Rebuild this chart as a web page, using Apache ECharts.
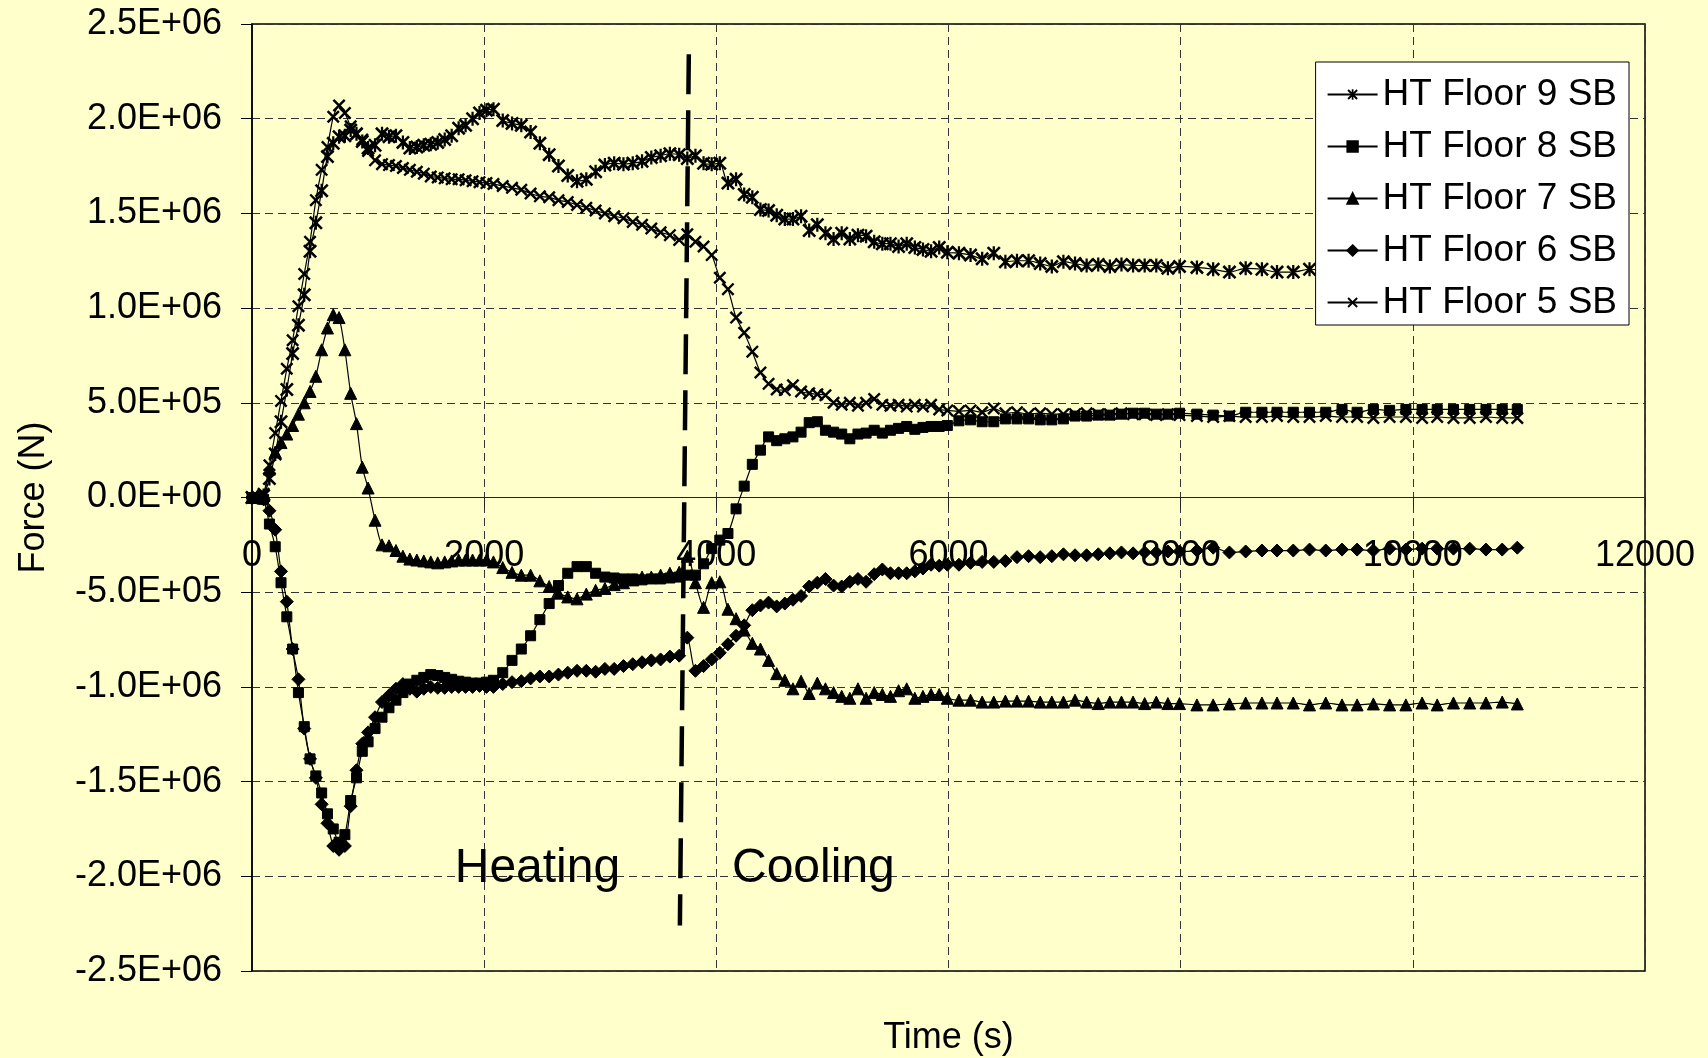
<!DOCTYPE html>
<html>
<head>
<meta charset="utf-8">
<title>HT Floor SB forces</title>
<script src="https://cdn.jsdelivr.net/npm/echarts@6/dist/echarts.min.js"></script>
<style>
html,body{margin:0;padding:0;background:#FFFFCC;}
#chart{width:1708px;height:1058px;}
</style>
</head>
<body>
<div id="chart"></div>
<script>
// Output times (s), shared by all five sub-beam records
const timeS = [0,50,100,150,200,250,300,350,400,450,500,550,600,650,700,750,800,850,900,950,1000,
  1060,1120,1180,1240,1300,1360,1420,1480,1540,1600,1660,1720,1780,1840,1900,1960,2020,2080,
  2160,2240,2320,2400,2480,2560,2640,2720,2800,2880,2960,3040,3120,3200,3280,3360,3440,3520,3600,3680,
  3750,3820,3890,3960,4030,4100,4170,4240,4310,4380,4450,4520,4590,4660,4730,4800,4870,4940,5010,5080,5150,5220,5290,5360,5430,5500,5570,5640,5710,5780,5850,5920,5990,
  6090,6190,6290,6390,6490,6590,6690,6790,6890,6990,7090,7190,7290,7390,7490,7590,7690,7790,7890,7990,
  8140,8280,8420,8560,8700,8830,8970,9110,9250,9390,9520,9660,9800,9940,10080,10210,10350,10490,10630,10770,10900];

// Axial force (N) per floor
const floor9 = [0,0,0.01e6,0.1e6,0.23e6,0.4e6,0.57e6,0.76e6,0.91e6,1.07e6,1.3e6,1.45e6,1.62e6,1.8e6,1.87e6,1.905e6,1.91e6,1.94e6,1.92e6,1.88e6,1.845e6,
  1.86e6,1.92e6,1.905e6,1.91e6,1.875e6,1.845e6,1.85e6,1.86e6,1.865e6,1.875e6,1.89e6,1.91e6,1.95e6,1.965e6,2.0e6,2.03e6,2.045e6,2.05e6,
  1.99e6,1.975e6,1.965e6,1.93e6,1.87e6,1.81e6,1.75e6,1.7e6,1.67e6,1.68e6,1.72e6,1.755e6,1.765e6,1.76e6,1.765e6,1.775e6,1.795e6,1.805e6,1.815e6,1.81e6,
  1.79e6,1.805e6,1.765e6,1.76e6,1.765e6,1.66e6,1.68e6,1.6e6,1.585e6,1.52e6,1.515e6,1.49e6,1.47e6,1.47e6,1.485e6,1.41e6,1.44e6,1.395e6,1.365e6,1.395e6,1.365e6,1.385e6,1.38e6,1.35e6,1.34e6,1.34e6,1.325e6,1.34e6,1.32e6,1.31e6,1.3e6,1.32e6,1.295e6,
  1.29e6,1.28e6,1.26e6,1.29e6,1.245e6,1.25e6,1.25e6,1.235e6,1.22e6,1.245e6,1.235e6,1.225e6,1.23e6,1.22e6,1.23e6,1.225e6,1.225e6,1.225e6,1.21e6,1.22e6,
  1.215e6,1.205e6,1.19e6,1.21e6,1.205e6,1.19e6,1.19e6,1.205e6,1.2e6,1.195e6,1.2e6,1.19e6,1.195e6,1.19e6,1.19e6,1.195e6,1.19e6,1.185e6,1.19e6,1.185e6,1.19e6];

const floor8 = [0,0,-0.01e6,-0.14e6,-0.26e6,-0.45e6,-0.63e6,-0.8e6,-1.03e6,-1.21e6,-1.38e6,-1.47e6,-1.56e6,-1.67e6,-1.75e6,-1.82e6,-1.78e6,-1.6e6,-1.48e6,-1.34e6,-1.29e6,
  -1.22e6,-1.16e6,-1.11e6,-1.07e6,-1.03e6,-0.985e6,-0.965e6,-0.95e6,-0.935e6,-0.94e6,-0.95e6,-0.96e6,-0.97e6,-0.975e6,-0.98e6,-0.98e6,-0.975e6,-0.965e6,
  -0.925e6,-0.86e6,-0.8e6,-0.73e6,-0.645e6,-0.56e6,-0.465e6,-0.4e6,-0.365e6,-0.365e6,-0.4e6,-0.42e6,-0.425e6,-0.43e6,-0.43e6,-0.435e6,-0.43e6,-0.43e6,-0.425e6,-0.42e6,
  -0.41e6,-0.41e6,-0.35e6,-0.27e6,-0.225e6,-0.19e6,-0.06e6,0.06e6,0.175e6,0.25e6,0.32e6,0.3e6,0.31e6,0.32e6,0.345e6,0.395e6,0.4e6,0.355e6,0.345e6,0.335e6,0.31e6,0.335e6,0.34e6,0.355e6,0.34e6,0.355e6,0.365e6,0.375e6,0.36e6,0.37e6,0.375e6,0.375e6,0.38e6,
  0.405e6,0.41e6,0.4e6,0.4e6,0.415e6,0.415e6,0.415e6,0.41e6,0.41e6,0.415e6,0.43e6,0.43e6,0.435e6,0.435e6,0.44e6,0.445e6,0.445e6,0.44e6,0.44e6,0.445e6,
  0.44e6,0.435e6,0.43e6,0.45e6,0.45e6,0.45e6,0.45e6,0.45e6,0.45e6,0.465e6,0.45e6,0.465e6,0.46e6,0.465e6,0.465e6,0.465e6,0.465e6,0.465e6,0.465e6,0.465e6,0.465e6];

const floor7 = [0,0,0.01e6,0.15e6,0.24e6,0.29e6,0.335e6,0.38e6,0.44e6,0.5e6,0.56e6,0.64e6,0.78e6,0.895e6,0.965e6,0.95e6,0.78e6,0.55e6,0.39e6,0.16e6,0.05e6,
  -0.12e6,-0.25e6,-0.255e6,-0.28e6,-0.31e6,-0.325e6,-0.33e6,-0.335e6,-0.34e6,-0.345e6,-0.34e6,-0.335e6,-0.33e6,-0.33e6,-0.33e6,-0.33e6,-0.33e6,-0.34e6,
  -0.37e6,-0.395e6,-0.41e6,-0.41e6,-0.44e6,-0.47e6,-0.505e6,-0.525e6,-0.535e6,-0.51e6,-0.49e6,-0.48e6,-0.46e6,-0.45e6,-0.435e6,-0.42e6,-0.42e6,-0.41e6,-0.4e6,-0.395e6,
  -0.31e6,-0.45e6,-0.58e6,-0.45e6,-0.445e6,-0.59e6,-0.64e6,-0.7e6,-0.77e6,-0.8e6,-0.86e6,-0.93e6,-0.965e6,-1.01e6,-0.97e6,-1.035e6,-0.98e6,-1.01e6,-1.03e6,-1.05e6,-1.06e6,-1.01e6,-1.06e6,-1.03e6,-1.04e6,-1.05e6,-1.02e6,-1.01e6,-1.06e6,-1.05e6,-1.04e6,-1.04e6,-1.06e6,
  -1.07e6,-1.07e6,-1.08e6,-1.08e6,-1.075e6,-1.075e6,-1.075e6,-1.08e6,-1.08e6,-1.08e6,-1.07e6,-1.08e6,-1.088e6,-1.08e6,-1.08e6,-1.08e6,-1.088e6,-1.08e6,-1.088e6,-1.088e6,
  -1.095e6,-1.095e6,-1.09e6,-1.085e6,-1.085e6,-1.085e6,-1.085e6,-1.095e6,-1.085e6,-1.095e6,-1.095e6,-1.09e6,-1.095e6,-1.095e6,-1.085e6,-1.095e6,-1.085e6,-1.085e6,-1.085e6,-1.08e6,-1.09e6];

const floor6 = [0,0,-0.01e6,-0.07e6,-0.17e6,-0.39e6,-0.55e6,-0.8e6,-0.96e6,-1.22e6,-1.38e6,-1.48e6,-1.62e6,-1.72e6,-1.84e6,-1.86e6,-1.84e6,-1.63e6,-1.44e6,-1.3e6,-1.24e6,
  -1.16e6,-1.08e6,-1.045e6,-1.01e6,-0.985e6,-1.01e6,-1.025e6,-1.01e6,-1.0e6,-1.005e6,-1.005e6,-1.0e6,-1.0e6,-1.0e6,-1.0e6,-0.995e6,-1.0e6,-1.0e6,
  -0.985e6,-0.975e6,-0.97e6,-0.955e6,-0.945e6,-0.945e6,-0.935e6,-0.925e6,-0.915e6,-0.915e6,-0.92e6,-0.905e6,-0.905e6,-0.89e6,-0.88e6,-0.87e6,-0.86e6,-0.855e6,-0.84e6,-0.835e6,
  -0.74e6,-0.915e6,-0.89e6,-0.855e6,-0.82e6,-0.775e6,-0.73e6,-0.675e6,-0.595e6,-0.57e6,-0.555e6,-0.575e6,-0.56e6,-0.54e6,-0.52e6,-0.47e6,-0.45e6,-0.43e6,-0.465e6,-0.47e6,-0.445e6,-0.43e6,-0.445e6,-0.405e6,-0.38e6,-0.4e6,-0.4e6,-0.4e6,-0.39e6,-0.375e6,-0.355e6,-0.36e6,-0.355e6,
  -0.355e6,-0.345e6,-0.34e6,-0.34e6,-0.335e6,-0.315e6,-0.31e6,-0.315e6,-0.31e6,-0.3e6,-0.305e6,-0.305e6,-0.3e6,-0.295e6,-0.29e6,-0.295e6,-0.29e6,-0.29e6,-0.285e6,-0.285e6,
  -0.28e6,-0.265e6,-0.29e6,-0.285e6,-0.28e6,-0.28e6,-0.28e6,-0.275e6,-0.28e6,-0.275e6,-0.275e6,-0.28e6,-0.27e6,-0.275e6,-0.27e6,-0.27e6,-0.27e6,-0.27e6,-0.275e6,-0.275e6,-0.265e6];

const floor5 = [0,0,0.02e6,0.17e6,0.34e6,0.51e6,0.68e6,0.83e6,1.01e6,1.18e6,1.35e6,1.57e6,1.73e6,1.85e6,2.01e6,2.07e6,2.03e6,1.96e6,1.92e6,1.89e6,1.83e6,
  1.78e6,1.76e6,1.755e6,1.75e6,1.74e6,1.73e6,1.72e6,1.71e6,1.695e6,1.69e6,1.685e6,1.68e6,1.68e6,1.675e6,1.67e6,1.665e6,1.66e6,1.655e6,
  1.645e6,1.635e6,1.625e6,1.605e6,1.59e6,1.585e6,1.57e6,1.56e6,1.545e6,1.53e6,1.515e6,1.5e6,1.485e6,1.475e6,1.455e6,1.44e6,1.42e6,1.4e6,1.385e6,1.36e6,
  1.39e6,1.35e6,1.325e6,1.28e6,1.16e6,1.1e6,0.95e6,0.87e6,0.77e6,0.66e6,0.6e6,0.57e6,0.567e6,0.593e6,0.56e6,0.55e6,0.545e6,0.54e6,0.5e6,0.49e6,0.5e6,0.485e6,0.5e6,0.52e6,0.49e6,0.485e6,0.49e6,0.48e6,0.49e6,0.48e6,0.49e6,0.465e6,0.46e6,
  0.455e6,0.46e6,0.45e6,0.47e6,0.445e6,0.45e6,0.44e6,0.445e6,0.44e6,0.44e6,0.44e6,0.445e6,0.44e6,0.44e6,0.445e6,0.44e6,0.44e6,0.435e6,0.44e6,0.435e6,
  0.43e6,0.425e6,0.43e6,0.425e6,0.425e6,0.43e6,0.425e6,0.425e6,0.43e6,0.425e6,0.425e6,0.42e6,0.425e6,0.425e6,0.42e6,0.425e6,0.42e6,0.42e6,0.425e6,0.42e6,0.42e6];

const seriesNames = ['HT Floor 9 SB', 'HT Floor 8 SB', 'HT Floor 7 SB', 'HT Floor 6 SB', 'HT Floor 5 SB'];
const seriesValues = [floor9, floor8, floor7, floor6, floor5];

// End of heating phase, drawn as a long-dash divider, and the two phase captions
const phaseDivider = [[3763, 2.34e6], [3686, -2.26e6]];
const phaseNames = ['Heating', 'Cooling'];
const phaseCaptionAt = [[2459, -1.96e6], [4836, -1.96e6]];

// Marker glyphs: an "x" cross and an asterisk (cross plus vertical bar)
const CROSS = 'path://M0,1.3L1.3,0L10,8.7L8.7,10Z M8.7,0L10,1.3L1.3,10L0,8.7Z';
const ASTERISK = 'path://M0,1.3L1.3,0L10,8.7L8.7,10Z M8.7,0L10,1.3L1.3,10L0,8.7Z M4.2,0L5.8,0L5.8,10L4.2,10Z';
const markers = [
  { symbol: ASTERISK, size: 14, border: 0 },
  { symbol: 'rect', size: 10, border: 1 },
  { symbol: 'triangle', size: 12, border: 1 },
  { symbol: 'diamond', size: 13, border: 1 },
  { symbol: CROSS, size: 13, border: 0 }
];

const FONT = '"Liberation Sans", Arial, Helvetica, sans-serif';

// Plot box in pixels; the time axis is carried up to the zero-force line
const GRID = { left: 252, right: 63, top: 24, bottom: 87 };
const Y_MIN = -2.5e6, Y_MAX = 2.5e6;
const plotH = 1058 - GRID.top - GRID.bottom;
const zeroLift = plotH * (0 - Y_MIN) / (Y_MAX - Y_MIN);

function sciLabel(v) {
  if (v === 0) return '0.0E+00';
  const parts = v.toExponential(1).split('e');
  const exp = parseInt(parts[1], 10);
  return parts[0] + 'E' + (exp < 0 ? '-' : '+') + String(Math.abs(exp)).padStart(2, '0');
}

const dataSeries = seriesNames.map((name, i) => ({
  name: name,
  type: 'line',
  data: timeS.map((t, k) => [t, seriesValues[i][k]]),
  symbol: markers[i].symbol,
  symbolSize: markers[i].size,
  showSymbol: true,
  showAllSymbol: true,
  smooth: 0.25,
  lineStyle: { color: '#000', width: 1.2 },
  itemStyle: { color: '#000', opacity: 1, borderColor: '#000', borderWidth: markers[i].border },
  emphasis: { disabled: true },
  z: 3
}));

const chart = echarts.init(document.getElementById('chart'), null, { renderer: 'canvas' });
chart.setOption({
  backgroundColor: '#FFFFCC',
  animation: false,
  textStyle: { fontFamily: FONT },
  grid: {
    left: GRID.left, right: GRID.right, top: GRID.top, bottom: GRID.bottom,
    show: true, backgroundColor: '#FFFFCC', borderColor: '#000', borderWidth: 1.5,
    containLabel: false, outerBoundsMode: 'none'
  },
  xAxis: {
    type: 'value', min: 0, max: 12000, interval: 2000,
    position: 'bottom', offset: -zeroLift,
    name: 'Time (s)', nameLocation: 'middle', nameGap: 523,
    nameTextStyle: { fontSize: 36, color: '#000', fontFamily: FONT },
    axisLine: { show: true, onZero: false, lineStyle: { color: '#222', width: 1 } },
    axisTick: { show: true, length: 10, lineStyle: { color: '#222', width: 1 } },
    axisLabel: { fontSize: 36, color: '#000', margin: 41, showMinLabel: true, showMaxLabel: true, hideOverlap: false,
      fontFamily: FONT, formatter: v => String(v) },
    splitLine: { show: true, lineStyle: { color: '#333', width: 1, type: [8, 5] } }
  },
  yAxis: {
    type: 'value', min: Y_MIN, max: Y_MAX, interval: 5e5,
    name: 'Force (N)', nameLocation: 'middle', nameRotate: 90, nameGap: 200,
    nameTextStyle: { fontSize: 36, color: '#000', fontFamily: FONT },
    axisLine: { show: true, onZero: false, lineStyle: { color: '#000', width: 1.5 } },
    axisTick: { show: true, length: 11, lineStyle: { color: '#000', width: 1 } },
    axisLabel: { fontSize: 36, color: '#000', margin: 30, formatter: sciLabel, showMinLabel: true, showMaxLabel: true, fontFamily: FONT },
    splitLine: { show: true, lineStyle: { color: '#333', width: 1, type: [8, 5] } }
  },
  legend: {
    data: seriesNames,
    orient: 'vertical',
    right: 79, top: 62,
    backgroundColor: '#fff', borderColor: '#000', borderWidth: 1,
    padding: [14, 12, 4, 11],
    itemWidth: 50, itemHeight: 13, itemGap: 15,
    selectedMode: false,
    textStyle: { fontSize: 37, color: '#000', fontFamily: FONT },
    z: 10
  },
  series: dataSeries.concat([
    {
      name: 'phase divider',
      type: 'line',
      data: phaseDivider,
      symbol: 'none',
      lineStyle: { color: '#000', width: 4.5, type: [40, 16] },
      silent: true,
      z: 4
    }
  ])
});

// Phase captions, placed at their time/force coordinates
chart.setOption({
  graphic: phaseNames.map((txt, i) => {
    const p = chart.convertToPixel({ gridIndex: 0 }, phaseCaptionAt[i]);
    return {
      type: 'text',
      x: p[0], y: p[1],
      z: 5,
      silent: true,
      style: {
        text: txt,
        fill: '#000',
        font: '48px ' + FONT,
        textAlign: 'center', textVerticalAlign: 'middle',
        align: 'center', verticalAlign: 'middle'
      }
    };
  })
});
</script>
</body>
</html>
